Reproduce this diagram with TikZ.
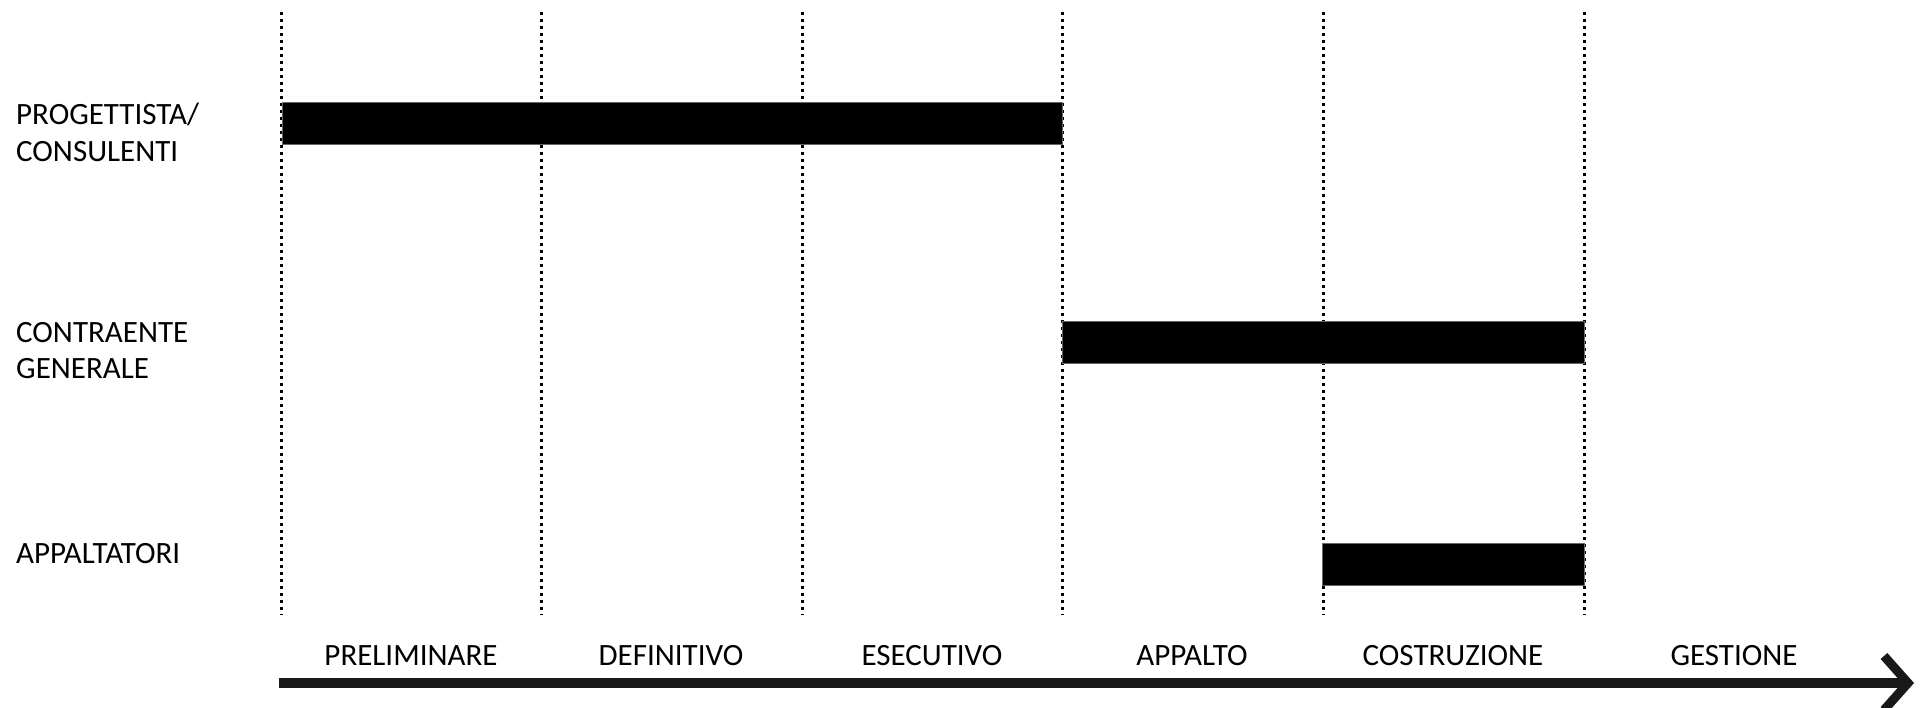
\documentclass[tikz,border=0pt]{standalone}
\usepackage{fontspec}
\setmainfont{Carlito}
\begin{document}
\begin{tikzpicture}[x=1pt,y=-1pt,
  lbl/.style={inner sep=0pt,font=\fontsize{31}{36.5}\selectfont,text=black},
  sep/.style={line width=3pt,dash pattern=on 3pt off 4pt,black},
  bar/.style={fill=black,draw=black!60,line width=0.6pt},
  axis/.style={line width=10pt,draw=black!90}]
\useasboundingbox (0,0) rectangle (1920,708);
% role labels
\node[lbl,anchor=base west] (r1a) at (16,125) {PROGETTISTA/};
\node[lbl,anchor=base west] (r1b) at (16,162) {CONSULENTI};
\node[lbl,anchor=base west] (r2a) at (16,343) {CONTRAENTE};
\node[lbl,anchor=base west] (r2b) at (16,379) {GENERALE};
\node[lbl,anchor=base west] (r3) at (16,563) {APPALTATORI};
% separators
\foreach \x [count=\i] in {281,541,802,1062,1323,1584}{
  \coordinate (t\i) at (\x,12);
  \coordinate (b\i) at (\x,615);
  \draw[sep] (t\i) -- (b\i);
}
% bars
\path[bar] (282,102) rectangle (1062,144);
\path[bar] (1062,321) rectangle (1584,363);
\path[bar] (1322,543) rectangle (1584,585);
% phase labels
\node[lbl,anchor=base] (p1) at (411,665) {PRELIMINARE};
\node[lbl,anchor=base] (p2) at (671,665) {DEFINITIVO};
\node[lbl,anchor=base] (p3) at (932,665) {ESECUTIVO};
\node[lbl,anchor=base] (p4) at (1192,665) {APPALTO};
\node[lbl,anchor=base] (p5) at (1453,665) {COSTRUZIONE};
\node[lbl,anchor=base] (p6) at (1734,665) {GESTIONE};
% time axis
\coordinate (a0) at (279,683);
\coordinate (a1) at (1908,683);
\coordinate (tipU) at (1884,656);
\coordinate (tipD) at (1884,710);
\draw[axis] (a0) -- (a1);
\draw[axis,line width=9pt,line join=miter] (tipU) -- (a1) -- (tipD);
\end{tikzpicture}
\end{document}
